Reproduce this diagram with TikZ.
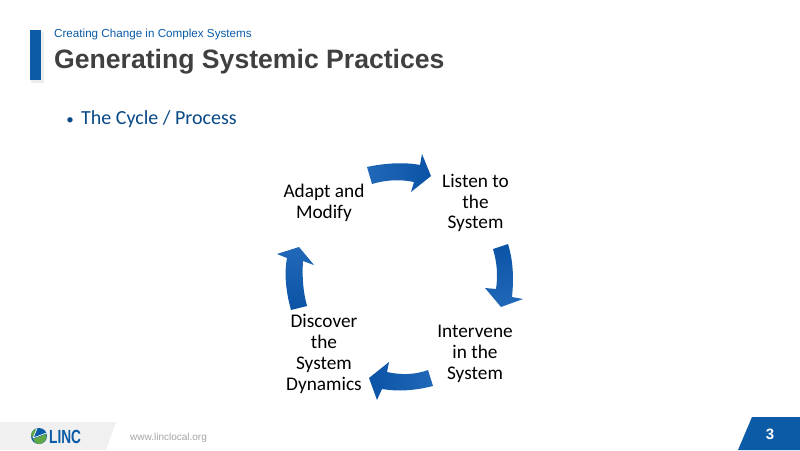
\documentclass[tikz,border=0pt]{standalone}
\usepackage{fontspec}
\setmainfont{Carlito}
\newfontfamily\arialfont{Liberation Sans}
\definecolor{lincblau}{HTML}{0B5BA6}
\definecolor{pfeilblau}{HTML}{0A53A5}
\definecolor{pfeilhell}{HTML}{2268B8}
\definecolor{lincdunkel}{HTML}{404040}
\definecolor{lincgruen}{HTML}{5FA845}
\usetikzlibrary{positioning, shadows, fadings}

\begin{document}
\begin{tikzpicture}[
    x=1pt, y=-1pt,
    step label/.style={text=black, font=\fontsize{19.3}{20.9}\selectfont,
                align=center, inner sep=0pt},
    blockarr/.style={top color=pfeilblau, bottom color=pfeilhell,
                shading angle=#1, draw=none}
  ]
  \useasboundingbox (0,0) rectangle (800,450);
  \fill[white] (0,0) rectangle (800,450);

  % Header
  \fill[black!7] (31,32) rectangle (44,83);
  \fill[lincblau] (30,30) rectangle (41,80);
  \node[anchor=base west, inner sep=0pt, text=lincblau, font=\arialfont\fontsize{11.65}{14}\selectfont]
    (kicker) at (54,37) {Creating Change in Complex Systems};
  \node[anchor=base west, inner sep=0pt, text=lincdunkel, font=\arialfont\bfseries\fontsize{26.6}{30}\selectfont]
    (title) at (54,68) {Generating Systemic Practices};
  \node[anchor=base west, inner sep=0pt, text=lincblau!80!black, font=\fontsize{20}{24}\selectfont]
    (process) at (81,124) {The Cycle / Process};
  \node[left=7pt of process.base west, anchor=base east, inner sep=0pt, text=lincblau!80!black,
        font=\fontsize{15}{24}\selectfont] (bullet) {\textbullet};

  % Cycle labels
  \node[step label] (listen)   at (475.5,203) {Listen to\\the\\System};
  \node[step label] (intervene) at (475,354) {Intervene\\in the\\System};
  \node[step label] (discover) at (324,354) {Discover\\the\\System\\Dynamics};
  \node[step label] (adapt)    at (324,203) {Adapt and\\Modify};

  % Block arrows between the labels
  \shade[blockarr=270] (367,167) .. controls (385,163) and (405,162) .. (420,165)
    -- (422,154) -- (431,176) -- (411,192) -- (414,182)
    .. controls (400,179) and (385,180) .. (372,184) -- cycle;
  \shade[blockarr=0] (493,249) .. controls (497,262) and (498,276) .. (496,289)
    -- (485,288) -- (501,307) -- (523,299) -- (512,297)
    .. controls (514,278) and (513,260) .. (508,244) -- cycle;
  \shade[blockarr=90] (433,386) .. controls (417,390) and (400,392) .. (382,389)
    -- (377,400) -- (369,378) -- (389,362) -- (387,372)
    .. controls (400,375) and (415,375) .. (428,370) -- cycle;
  \shade[blockarr=180] (291,310) .. controls (286,292) and (284,274) .. (287,258)
    -- (277,254) -- (299,247) -- (314,265) -- (303,261)
    .. controls (302,277) and (303,291) .. (307,306) -- cycle;

  % Footer
  \fill[black!6] (0,422) -- (116,422) -- (106,450) -- (0,450) -- cycle;
  \fill[lincblau] (39,436) circle (8);
  \fill[lincgruen] (31,436) .. controls (31,432) and (34,429) .. (37,428.5)
    -- (33,437) -- cycle;
  \fill[lincgruen] (33,439) -- (46.5,434) .. controls (47.5,440) and (43,444) .. (39,444)
    .. controls (36,444) and (34,442) .. (33,439) -- cycle;
  \draw[white, line width=0.7pt] (33,438) -- (37,428.5) (33,438) -- (46.5,433);
  \node[anchor=base west, inner sep=0pt, text=lincblau, xscale=0.72,
        font=\arialfont\bfseries\fontsize{19}{19}\selectfont] (logo) at (49,443) {LINC};
  \node[anchor=base west, inner sep=0pt, text=black!35, font=\arialfont\fontsize{10}{12}\selectfont]
    (web) at (130,440) {www.linclocal.org};
  \fill[lincblau] (752,417) -- (800,417) -- (800,450) -- (738,450) -- cycle;
  \node[text=white, inner sep=0pt, font=\arialfont\bfseries\fontsize{15}{16}\selectfont]
    (page) at (770,434) {3};
\end{tikzpicture}
\end{document}
